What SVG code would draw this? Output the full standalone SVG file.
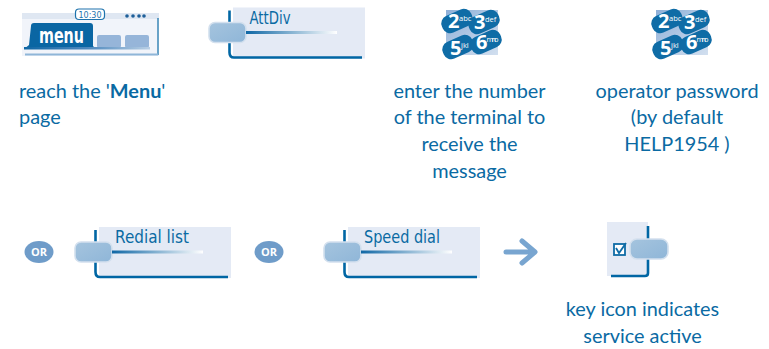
<svg xmlns="http://www.w3.org/2000/svg" xmlns:xlink="http://www.w3.org/1999/xlink" width="769" height="349" viewBox="0 0 769 349">
<style>
.t{font-family:"Lato","Noto Sans",sans-serif;font-size:19.9px;fill:#0a6aa3}
.m{text-anchor:middle}
.d{font-family:"DejaVu Sans",sans-serif;font-size:17px;fill:#0a6aa3}
.panel{fill:#e4eaf5}
.edge{fill:none;stroke:#0066a4;stroke-width:2.6}
.btn{fill:url(#bg);stroke:#d3e0ee;stroke-width:1.6}
.or{fill:#6f9cc9}
.ort{font-family:"Open Sans",sans-serif;font-size:11px;font-weight:700;fill:#fff;text-anchor:middle}
.kb{fill:#0f6ca6}
.kn{font-family:"Open Sans",sans-serif;font-weight:700;font-size:20px;fill:#fff}
.ks{font-family:"Open Sans",sans-serif;font-size:7.5px;fill:#fff}
</style>
<defs>
<linearGradient id="bg" x1="0" y1="0" x2="1" y2="1"><stop offset="0" stop-color="#a5c4de"/><stop offset="1" stop-color="#8fb6d8"/></linearGradient>
<linearGradient id="kbg" x1="0" y1="0" x2="1" y2="1"><stop offset="0" stop-color="#8fb0d8"/><stop offset="1" stop-color="#d2dfef"/></linearGradient>
<linearGradient id="ln"><stop offset="0" stop-color="#0f67a5"/><stop offset="1" stop-color="#ffffff"/></linearGradient>
<linearGradient id="ln2"><stop offset="0" stop-color="#0f67a5"/><stop offset=".5" stop-color="#4d88bd"/><stop offset="1" stop-color="#b9cfe5"/></linearGradient>
<g id="softkey">
<path class="panel" d="M5 0H137V51H5Z"/>
<path class="edge" d="M1.500 3V45Q1.500 50 6 50H134"/>
<rect x="-19" y="15" width="37" height="20" rx="6" class="btn"/>
<rect x="18" y="23.500" width="91" height="3" fill="url(#ln)"/>
</g>
<g id="keypad">
<path d="M3 5H55V50H3Z" fill="url(#kbg)"/>
<rect x="-16" y="-9" width="32" height="18" rx="8" class="kb" transform="translate(14 16) rotate(-24)"/>
<rect x="-16" y="-9" width="32" height="18" rx="8" class="kb" transform="translate(41 17) rotate(-24)"/>
<rect x="-16" y="-9" width="32" height="18" rx="8" class="kb" transform="translate(15 42) rotate(-24)"/>
<rect x="-16" y="-9" width="32" height="18" rx="8" class="kb" transform="translate(43 37) rotate(-24)"/>
<text class="kn" x="5" y="23">2</text><text class="ks" x="16" y="16">abc</text>
<text class="kn" x="31" y="24">3</text><text class="ks" x="42" y="17">def</text>
<text class="kn" x="7" y="50">5</text><text class="ks" x="18" y="43">jkl</text>
<text class="kn" x="33" y="44">6</text><text class="ks" x="43.500" y="37" textLength="12">mno</text>
</g>
</defs>
<g id="menu-screen">
<rect x="22" y="13" width="137" height="43" fill="#f1f4fa"/>
<rect x="22" y="13" width="137" height="6" fill="#dfe7f2"/>
<path d="M158 18V55" stroke="#0f6ca6" stroke-width="1.200" fill="none"/>
<rect x="25" y="53.500" width="133" height="2" fill="#8fb6d8"/>
<rect x="75.500" y="9" width="29" height="10.500" rx="3.500" fill="#fff" stroke="#1e73ad" stroke-width="1.200"/>
<text x="90" y="18" font-family="DejaVu Sans,sans-serif" font-size="8" fill="#1e73ad" text-anchor="middle">10:30</text>
<g fill="#1e5f99"><circle cx="127" cy="16" r="1.800"/><circle cx="133" cy="16" r="1.800"/><circle cx="139" cy="16" r="1.800"/><circle cx="144" cy="16" r="1.800"/></g>
<rect x="97" y="35" width="24" height="13" rx="2" fill="#96b5d9"/>
<rect x="125" y="35" width="24" height="13" rx="2" fill="#96b5d9"/>
<path d="M24 49L29 45L31 26Q31 23 34 23H90Q93 23 93 26V46L96 49Z" fill="#0a66a3"/>
<rect x="24" y="47" width="126" height="2.500" fill="url(#ln2)"/>
<text x="39" y="43" font-family="DejaVu Sans,sans-serif" font-weight="700" font-size="21" fill="#fff" textLength="45" lengthAdjust="spacingAndGlyphs">menu</text>
</g>
<g id="attdiv"><use href="#softkey" xlink:href="#softkey" x="228" y="7.500"/><text class="d" x="249.500" y="24" textLength="41" lengthAdjust="spacingAndGlyphs">AttDiv</text></g>
<g id="keypad-1"><use href="#keypad" xlink:href="#keypad" x="443" y="5"/></g>
<g id="keypad-2"><use href="#keypad" xlink:href="#keypad" x="653" y="5"/></g>
<g id="labels-top">
<text class="t" x="19" y="98">reach the '<tspan font-weight="700">Menu</tspan>'</text>
<text class="t" x="19" y="124">page</text>
<text class="t m" x="469.500" y="98">enter the number</text>
<text class="t m" x="469.500" y="124">of the terminal to</text>
<text class="t m" x="469.500" y="151">receive the</text>
<text class="t m" x="469.500" y="178">message</text>
<text class="t m" x="677" y="98">operator password</text>
<text class="t m" x="677" y="124">(by default</text>
<text class="t m" x="677" y="151">HELP1954 )</text>
</g>
<g id="or-1"><ellipse class="or" cx="39" cy="252" rx="14.500" ry="11"/><text class="ort" x="39" y="256">OR</text></g>
<g id="redial"><use href="#softkey" xlink:href="#softkey" x="94" y="227"/><text class="d" x="115" y="243" textLength="74" lengthAdjust="spacingAndGlyphs">Redial list</text></g>
<g id="or-2"><ellipse class="or" cx="269" cy="252" rx="14.500" ry="11"/><text class="ort" x="269" y="256">OR</text></g>
<g id="speed"><use href="#softkey" xlink:href="#softkey" x="343" y="227"/><text class="d" x="364" y="243" textLength="76" lengthAdjust="spacingAndGlyphs">Speed dial</text></g>
<g id="connectors"><path d="M506 252H534M522 241L535 252L522 263" fill="none" stroke="#78a5d0" stroke-width="5" stroke-linecap="round" stroke-linejoin="round"/></g>
<g id="key-icon">
<rect x="607" y="222" width="41" height="54" fill="#e4eaf5"/>
<path class="edge" d="M648 226V273Q648 276 645 276H611"/>
<rect x="630" y="239" width="38" height="20" rx="7" class="btn"/>
<rect x="614" y="244" width="11" height="11" fill="#fff" stroke="#0f6ca6" stroke-width="1.800"/>
<path d="M616 248L619 253L626 243" fill="none" stroke="#0f6ca6" stroke-width="1.800"/>
</g>
<g id="labels-bottom">
<text class="t m" x="642.500" y="316">key icon indicates</text>
<text class="t m" x="642.500" y="343">service active</text>
</g>
</svg>
